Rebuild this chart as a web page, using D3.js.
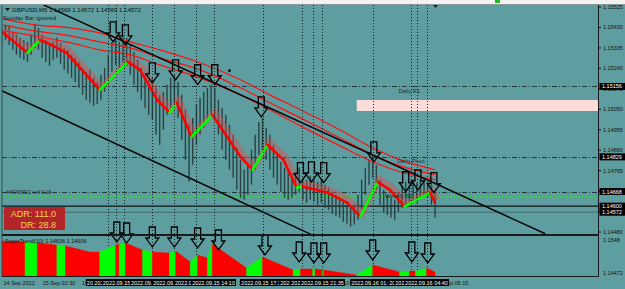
<!DOCTYPE html>
<html>
<head>
<meta charset="utf-8">
<script src="https://cdn.jsdelivr.net/npm/d3@7"></script>
<style>
body{margin:0;background:#5f9ea0;}
svg{display:block;}
text{font-family:"Liberation Sans",Arial,sans-serif;}
</style>
</head>
<body>
<svg id="chart" width="625" height="289"></svg>
<script>
// ---- data ----
var candleStart = "2022-09-14 23:45"; // M15 blocks
var highs = [1.15428,1.15442,1.15433,1.15410,1.15396,1.15382,1.15372,1.15363,1.15396,1.15447,
1.15428,1.15396,1.15372,1.15349,1.15363,1.15382,1.15358,1.15335,1.15326,1.15303,
1.15289,1.15270,1.15242,1.15224,1.15233,1.15196,1.15177,1.15210,1.15242,1.15303,
1.15363,1.15382,1.15363,1.15396,1.15382,1.15349,1.15317,1.15280,1.15242,1.15210,
1.15187,1.15196,1.15150,1.15117,1.15131,1.15164,1.15196,1.15210,1.15177,1.15117,
1.15048,1.14978,1.15010,1.15071,1.15103,1.15131,1.15150,1.15164,1.15150,1.15094,
1.15057,1.15024,1.14978,1.14932,1.14871,1.14816,1.14769,1.14792,1.14862,1.14932,
1.14992,1.15010,1.14964,1.14932,1.14885,1.14839,1.14806,1.14779,1.14760,1.14746,
1.14760,1.14779,1.14732,1.14723,1.14741,1.14732,1.14713,1.14723,1.14700,1.14686,
1.14667,1.14653,1.14639,1.14621,1.14607,1.14593,1.14607,1.14653,1.14723,1.14779,
1.14816,1.14839,1.14792,1.14723,1.14676,1.14653,1.14639,1.14630,1.14667,1.14700,
1.14713,1.14700,1.14723,1.14709,1.14723,1.14732,1.14713,1.14700,1.14667];
var lows = [1.15349,1.15372,1.15349,1.15326,1.15303,1.15289,1.15280,1.15270,1.15303,1.15335,
1.15326,1.15289,1.15270,1.15252,1.15280,1.15289,1.15261,1.15233,1.15215,1.15196,
1.15177,1.15150,1.15117,1.15094,1.15080,1.15066,1.15075,1.15094,1.15131,1.15164,
1.15224,1.15256,1.15242,1.15270,1.15252,1.15210,1.15164,1.15131,1.15094,1.15057,
1.15024,1.15001,1.14932,1.14885,1.14955,1.15024,1.15057,1.15071,1.15010,1.14908,
1.14816,1.14713,1.14792,1.14885,1.14932,1.14964,1.15001,1.15024,1.15010,1.14932,
1.14862,1.14816,1.14769,1.14732,1.14676,1.14639,1.14630,1.14653,1.14700,1.14769,
1.14839,1.14862,1.14816,1.14769,1.14732,1.14700,1.14667,1.14639,1.14630,1.14639,
1.14653,1.14667,1.14630,1.14616,1.14630,1.14621,1.14607,1.14616,1.14593,1.14584,
1.14565,1.14556,1.14547,1.14528,1.14519,1.14505,1.14514,1.14537,1.14584,1.14653,
1.14700,1.14732,1.14676,1.14607,1.14570,1.14560,1.14547,1.14537,1.14574,1.14593,
1.14607,1.14621,1.14630,1.14616,1.14639,1.14649,1.14639,1.14607,1.14547];

var maTimes = ["2022-09-14 23:50","2022-09-15 01:30","2022-09-15 02:20","2022-09-15 02:50","2022-09-15 04:10","2022-09-15 06:25","2022-09-15 08:20","2022-09-15 09:10","2022-09-15 10:20","2022-09-15 11:10","2022-09-15 11:40","2022-09-15 12:40","2022-09-15 14:05","2022-09-15 16:00","2022-09-15 16:50","2022-09-15 17:50","2022-09-15 18:55","2022-09-15 19:50","2022-09-15 20:15","2022-09-15 21:55","2022-09-15 23:15","2022-09-16 00:10","2022-09-16 01:20","2022-09-16 02:10","2022-09-16 03:10","2022-09-16 04:55","2022-09-16 05:15"];
var maValues = [1.15405,1.15312,1.15372,1.15358,1.15312,1.15140,1.15270,1.15233,1.15094,1.15034,1.15080,1.14922,1.15024,1.14830,1.14769,1.14885,1.14816,1.14686,1.14690,1.14663,1.14616,1.14551,1.14713,1.14676,1.14598,1.14663,1.14616];

var envTimes = ["2022-09-14 23:50","2022-09-15 02:00","2022-09-15 04:25","2022-09-15 06:25","2022-09-15 08:30","2022-09-15 10:30","2022-09-15 13:15","2022-09-15 16:00","2022-09-15 18:00","2022-09-15 20:05","2022-09-15 22:45","2022-09-16 01:00","2022-09-16 02:50","2022-09-16 05:15"];
var envUpper = [1.15470,1.15442,1.15428,1.15405,1.15363,1.15326,1.15266,1.15187,1.15117,1.15048,1.14955,1.14871,1.14816,1.14769];
var envMiddle = [1.15442,1.15414,1.15391,1.15363,1.15335,1.15289,1.15233,1.15150,1.15080,1.15010,1.14918,1.14839,1.14788,1.14746];
var envLower = [1.15414,1.15391,1.15358,1.15326,1.15303,1.15256,1.15196,1.15117,1.15048,1.14973,1.14881,1.14806,1.14760,1.14723];

var upperTrend = [["2022-09-15 02:35",1.15535],["2022-09-16 12:45",1.14472]];
var lowerTrend = [["2022-09-14 23:45",1.15136],["2022-09-15 20:50",1.14468]];

var levelNames = ["Daily R1","Daily Pivot","Weekly S1"];
var levelValues = [1.15156,1.14829,1.14668];
var levelLabelTimes = ["2022-09-16 02:45","2022-09-16 02:40","2022-09-16 01:50"];
var orderValue = 1.14648, orderText = "#45795822 sell 0.18";
var hLineValue = 1.14600, bidValue = 1.14572;
var zoneTimes = ["2022-09-15 23:55","2022-09-16 18:00"], zonePrices = [1.15093,1.15042];
var dotPoint = ["2022-09-15 15:15",1.15229];

var vlineTimes = ["2022-09-15 07:00","2022-09-15 07:30","2022-09-15 08:05","2022-09-15 10:00","2022-09-15 11:30","2022-09-15 13:00","2022-09-15 14:10","2022-09-15 17:30","2022-09-15 20:10","2022-09-15 20:55","2022-09-15 21:35","2022-09-16 01:00","2022-09-16 03:35","2022-09-16 04:00","2022-09-16 04:40"];

var arrowTimes = ["2022-09-15 07:20","2022-09-15 08:10","2022-09-15 10:00","2022-09-15 11:35","2022-09-15 13:05","2022-09-15 14:15","2022-09-15 17:25","2022-09-15 20:05","2022-09-15 20:50","2022-09-15 21:40","2022-09-16 01:05","2022-09-16 03:15","2022-09-16 04:05","2022-09-16 05:10"];
var arrowPrices = [1.15363,1.15349,1.15173,1.15187,1.15164,1.15164,1.15015,1.14709,1.14713,1.14709,1.14806,1.14667,1.14676,1.14663];

var stTimes = ["2022-09-14 23:45","2022-09-15 01:20","2022-09-15 02:10","2022-09-15 03:30","2022-09-15 04:05","2022-09-15 05:45","2022-09-15 06:25","2022-09-15 07:30","2022-09-15 07:45","2022-09-15 08:10","2022-09-15 09:20","2022-09-15 10:00","2022-09-15 11:10","2022-09-15 11:35","2022-09-15 12:35","2022-09-15 13:05","2022-09-15 13:45","2022-09-15 14:05","2022-09-15 16:25","2022-09-15 17:30","2022-09-15 19:35","2022-09-15 20:05","2022-09-15 20:55","2022-09-15 21:05","2022-09-15 21:35","2022-09-15 21:40","2022-09-15 23:55","2022-09-16 01:00","2022-09-16 02:50","2022-09-16 03:30","2022-09-16 03:55","2022-09-16 04:15","2022-09-16 04:40","2022-09-16 05:15"];
var stValues = [1.15450,1.15419,1.15388,1.15327,1.15297,1.15113,1.15113,1.15327,1.15358,1.15388,1.15175,1.15113,1.15083,1.15144,1.14808,1.15022,1.14930,1.15358,1.14625,1.14961,1.14564,1.14594,1.14594,1.14594,1.14564,1.14564,1.14411,1.14716,1.14503,1.14533,1.14533,1.14564,1.14625,1.14503];
var stTrend = [-1,1,-1,1,-1,-1,1,-1,1,-1,1,-1,1,-1,1,-1,1,-1,1,-1,1,-1,1,-1,1,-1,1,-1,1,-1,1,1,-1,-1];

var subArrowTimes = ["2022-09-15 07:35","2022-09-15 08:15","2022-09-15 10:00","2022-09-15 11:30","2022-09-15 13:05","2022-09-15 14:30","2022-09-15 17:40","2022-09-15 20:00","2022-09-15 21:00","2022-09-15 21:40","2022-09-16 01:00","2022-09-16 03:40","2022-09-16 04:45"];
var subArrowValues = [1.15419,1.15388,1.15266,1.15266,1.15236,1.15175,1.15022,1.14808,1.14778,1.14778,1.14869,1.14808,1.14778];

var priceTicks = [1.15525,1.15430,1.15335,1.15240,1.15145,1.15050,1.14955,1.14860,1.14765,1.14670,1.14575,1.14480];
var priceMarks = [1.15156,1.14829,1.14668,1.14600,1.14572];
var subTicks = ["1.1548","1.14472"];
var timeTicks = ["2022-09-14 23:50","2022-09-15 02:30","2022-09-15 05:10","2022-09-15 07:50","2022-09-15 10:30","2022-09-15 13:10","2022-09-15 15:50","2022-09-15 18:30","2022-09-15 21:10","2022-09-15 23:50","2022-09-16 02:30","2022-09-16 05:15"];
var titleText = "GBPUSD,M5  1.14569 1.14572 1.14569 1.14572";
var adrText = ["ADR: 111.0","DR: 28.8"];
var stLabel = "SuperTrend(10) 1.14606 1.14606";

// ---- layout ----
var W = 625, H = 289;
var left = 2, right = 598, mainTop = 5, mainBottom = 235, subTop = 236, subBottom = 276;
var parse = d3.timeParse("%Y-%m-%d %H:%M");
var fmtLine = d3.timeFormat("%Y.%m.%d %H:%M");
var fmtTick = d3.timeFormat("%d %b %H:%M");

var x = d3.scaleTime().domain([parse("2022-09-14 23:50"), parse("2022-09-16 05:15")]).range([3, 435.1]);
var y = d3.scaleLinear().domain([1.14480, 1.15525]).range([232, 7]);
var ySub = d3.scaleLinear().domain([+subTicks[1], +subTicks[0]]).range([273, 240]);

var svg = d3.select("#chart");
var defs = svg.append("defs");
defs.append("clipPath").attr("id","mainClip").append("rect")
	.attr("x",left).attr("y",mainTop).attr("width",right-left).attr("height",mainBottom-mainTop);
defs.append("clipPath").attr("id","subClip").append("rect")
	.attr("x",left).attr("y",subTop).attr("width",right-left).attr("height",subBottom-subTop);

svg.append("rect").attr("width",W).attr("height",H).attr("fill","#5f9ea0");
svg.append("rect").attr("width",W).attr("height",4).attr("fill","#f2f2f2");
svg.append("rect").attr("x",495).attr("y",0).attr("width",5).attr("height",3).attr("fill","#22b822");

var main = svg.append("g").attr("clip-path","url(#mainClip)");

// pink zone
main.append("rect")
	.attr("x",x(parse(zoneTimes[0]))).attr("y",y(zonePrices[0]))
	.attr("width",x(parse(zoneTimes[1]))-x(parse(zoneTimes[0])))
	.attr("height",y(zonePrices[1])-y(zonePrices[0]))
	.attr("fill","#fddcdc");

// horizontal levels
main.selectAll(".lvl").data(levelValues).enter().append("line")
	.attr("x1",left).attr("x2",right)
	.attr("y1",function(d){return Math.round(y(d))+0.5;}).attr("y2",function(d){return Math.round(y(d))+0.5;})
	.attr("stroke","#22383a").attr("stroke-width",1).attr("stroke-dasharray","5,2,1,2");
main.append("line").attr("x1",left).attr("x2",right)
	.attr("y1",Math.round(y(orderValue))+0.5).attr("y2",Math.round(y(orderValue))+0.5)
	.attr("stroke","#2ed82e").attr("stroke-width",1).attr("stroke-dasharray","2,2");
main.append("line").attr("x1",left).attr("x2",right)
	.attr("y1",y(hLineValue)).attr("y2",y(hLineValue))
	.attr("stroke","#111").attr("stroke-width",1.3);
main.append("line").attr("x1",left).attr("x2",right)
	.attr("y1",y(bidValue)).attr("y2",y(bidValue))
	.attr("stroke","#3d5e5f").attr("stroke-width",0.8);

// vertical dotted lines (both windows)
svg.selectAll(".vl").data(vlineTimes).enter().append("line")
	.attr("x1",function(d){return Math.round(x(parse(d)))+0.5;})
	.attr("x2",function(d){return Math.round(x(parse(d)))+0.5;})
	.attr("y1",mainTop).attr("y2",subBottom)
	.attr("stroke","#102424").attr("stroke-width",1).attr("stroke-dasharray","1,2")
	.attr("shape-rendering","crispEdges");

// price bars
var t0 = parse(candleStart);
var candles = highs.map(function(h,i){ return {t:d3.timeMinute.offset(t0,15*i), h:h, l:lows[i]}; });
main.selectAll(".bar").data(candles).enter().append("line")
	.attr("x1",function(d){return x(d.t);}).attr("x2",function(d){return x(d.t);})
	.attr("y1",function(d){return y(d.h);}).attr("y2",function(d){return y(d.l);})
	.attr("stroke","#2a4243").attr("stroke-width",1.4);

// red envelope lines
var envLine = d3.line().curve(d3.curveMonotoneX)
	.x(function(d){return x(parse(d[0]));}).y(function(d){return y(d[1]);});
[envUpper,envMiddle,envLower].forEach(function(arr){
	main.append("path").datum(envTimes.map(function(t,i){return [t,arr[i]];}))
		.attr("d",envLine).attr("fill","none").attr("stroke","#ff1010").attr("stroke-width",1.2);
});

// trend lines
[upperTrend,lowerTrend].forEach(function(tl){
	main.append("line")
		.attr("x1",x(parse(tl[0][0]))).attr("y1",y(tl[0][1]))
		.attr("x2",x(parse(tl[1][0]))).attr("y2",y(tl[1][1]))
		.attr("stroke","#080808").attr("stroke-width",1.5);
});

// MA with shading, coloured by slope
var maPts = maTimes.map(function(t,i){return [t,maValues[i]];});
main.append("path").datum(maPts).attr("d",envLine.curve(d3.curveLinear))
	.attr("transform","translate(2,-3)")
	.attr("fill","none").attr("stroke","rgba(235,70,70,0.4)").attr("stroke-width",6);
for(var i=0;i<maPts.length-1;i++){
	var up = maValues[i+1] > maValues[i];
	main.append("line")
		.attr("x1",x(parse(maTimes[i]))).attr("y1",y(maValues[i]))
		.attr("x2",x(parse(maTimes[i+1]))).attr("y2",y(maValues[i+1]))
		.attr("stroke", up ? "#00ff00" : "#ff0000").attr("stroke-width",2.6).attr("stroke-linecap","round");
}

// fractal dot
main.append("circle").attr("cx",x(parse(dotPoint[0]))).attr("cy",y(dotPoint[1])).attr("r",1.4).attr("fill","#000");

function arrowPath(cx, tipY){
	return "M"+(cx-3)+","+(tipY-20)+"H"+(cx+3)+"V"+(tipY-9)+"H"+(cx+6.5)+"L"+cx+","+tipY+
		"L"+(cx-6.5)+","+(tipY-9)+"H"+(cx-3)+"Z";
}
main.selectAll(".arr").data(arrowTimes).enter().append("path")
	.attr("d",function(d,i){return arrowPath(x(parse(d)), y(arrowPrices[i]));})
	.attr("fill","none").attr("stroke","#000").attr("stroke-width",1.3);

// texts in main window
main.append("path").attr("d","M5,8h5l-2.5,3z").attr("fill","#111");
main.append("text").attr("x",12).attr("y",12).attr("font-size",6).attr("fill","#111").text(titleText);
main.append("text").attr("x",3).attr("y",19.5).attr("font-size",6).attr("fill","#1a1a1a").text("Sunday Bar ignored");
main.selectAll(".lvlt").data(levelNames).enter().append("text")
	.attr("x",function(d,i){return x(parse(levelLabelTimes[i]));})
	.attr("y",function(d,i){return y(levelValues[i])+6.5;})
	.attr("font-size",5.8).attr("fill","#1c2e2e").text(function(d){return d;});
main.append("text").attr("x",6).attr("y",y(orderValue)-2).attr("font-size",5).attr("fill","#1c2e2e").text(orderText);

// ADR box
svg.append("rect").attr("x",4).attr("y",207).attr("width",61).attr("height",23).attr("fill","#b2262a");
svg.selectAll(".adr").data(adrText).enter().append("text")
	.attr("x",56).attr("y",function(d,i){return 217+i*10.5;})
	.attr("text-anchor","end").attr("font-size",9).attr("fill","#f6d35a").text(function(d){return d;});

// sub window supertrend area
var sub = svg.append("g").attr("clip-path","url(#subClip)");
for(var j=0;j<stTimes.length-1;j++){
	var xa = x(parse(stTimes[j])), xb = x(parse(stTimes[j+1]));
	sub.append("path")
		.attr("d","M"+xa+","+ySub(stValues[j])+"L"+xb+","+ySub(stValues[j+1])+"L"+xb+","+subBottom+"L"+xa+","+subBottom+"Z")
		.attr("fill", stTrend[j] > 0 ? "#00ff00" : "#ff0000")
		.attr("stroke", stTrend[j] > 0 ? "#00ff00" : "#ff0000").attr("stroke-width",0.4);
}
svg.append("text").attr("x",5).attr("y",243).attr("font-size",5.5).attr("fill","#111").text(stLabel);
svg.selectAll(".sarr").data(subArrowTimes).enter().append("path")
	.attr("d",function(d,i){return arrowPath(x(parse(d)), ySub(subArrowValues[i]));})
	.attr("fill","none").attr("stroke","#000").attr("stroke-width",1.3);

// frame
svg.append("line").attr("x1",0).attr("x2",W).attr("y1",4.5).attr("y2",4.5).attr("stroke","#8a9a9a");
svg.append("line").attr("x1",left).attr("x2",left).attr("y1",mainTop).attr("y2",subBottom+1).attr("stroke","#2f4f4f");
svg.append("line").attr("x1",right+0.5).attr("x2",right+0.5).attr("y1",mainTop).attr("y2",subBottom+1).attr("stroke","#1a1a1a");
svg.append("line").attr("x1",left).attr("x2",right).attr("y1",mainBottom).attr("y2",mainBottom).attr("stroke","#1a1a1a").attr("stroke-width",2);
svg.append("line").attr("x1",left).attr("x2",right).attr("y1",subBottom+0.5).attr("y2",subBottom+0.5).attr("stroke","#1a1a1a").attr("stroke-width",1.2);

// price axis
svg.selectAll(".pt").data(priceTicks).enter().append("line")
	.attr("x1",right).attr("x2",right+3).attr("y1",function(d){return y(d);}).attr("y2",function(d){return y(d);})
	.attr("stroke","#111");
svg.selectAll(".ptl").data(priceTicks).enter().append("text")
	.attr("x",603).attr("y",function(d){return y(d)+2;})
	.attr("font-size",5.5).attr("fill","#111").text(function(d){return d.toFixed(5);});
svg.selectAll(".sl").data(subTicks).enter().append("text")
	.attr("x",603).attr("y",function(d){return ySub(+d)+2;})
	.attr("font-size",5.5).attr("fill","#111").text(function(d){return d;});
var pm = svg.selectAll(".pm").data(priceMarks).enter().append("g");
pm.append("rect").attr("x",599.5).attr("y",function(d){return y(d)-3.5;}).attr("width",25.5).attr("height",7).attr("fill","#000");
pm.append("text").attr("x",602).attr("y",function(d){return y(d)+2;})
	.attr("font-size",5.5).attr("fill","#fff").text(function(d){return d.toFixed(5);});

// time axis
svg.selectAll(".tt").data(timeTicks).enter().append("text")
	.attr("x",function(d){return x(parse(d))+0.5;}).attr("y",285)
	.attr("font-size",5.5).attr("fill","#111")
	.text(function(d,i){return i==0 ? "14 Sep 2022" : fmtTick(parse(d));});
var vl = svg.selectAll(".vlab").data(vlineTimes).enter().append("g");
vl.append("rect").attr("x",function(d){return x(parse(d))-22.5;}).attr("y",279).attr("width",45).attr("height",7).attr("fill","#000");
vl.append("text").attr("x",function(d){return x(parse(d));}).attr("y",285)
	.attr("text-anchor","middle").attr("font-size",5.5).attr("fill","#fff").text(function(d){return fmtLine(parse(d));});

// chart shift marker
var xs = x(parse(timeTicks[timeTicks.length-1]));
svg.append("path").attr("d","M"+(xs-2)+",5h5l-2.5,3z").attr("fill","#222");
</script>
</body>
</html>
